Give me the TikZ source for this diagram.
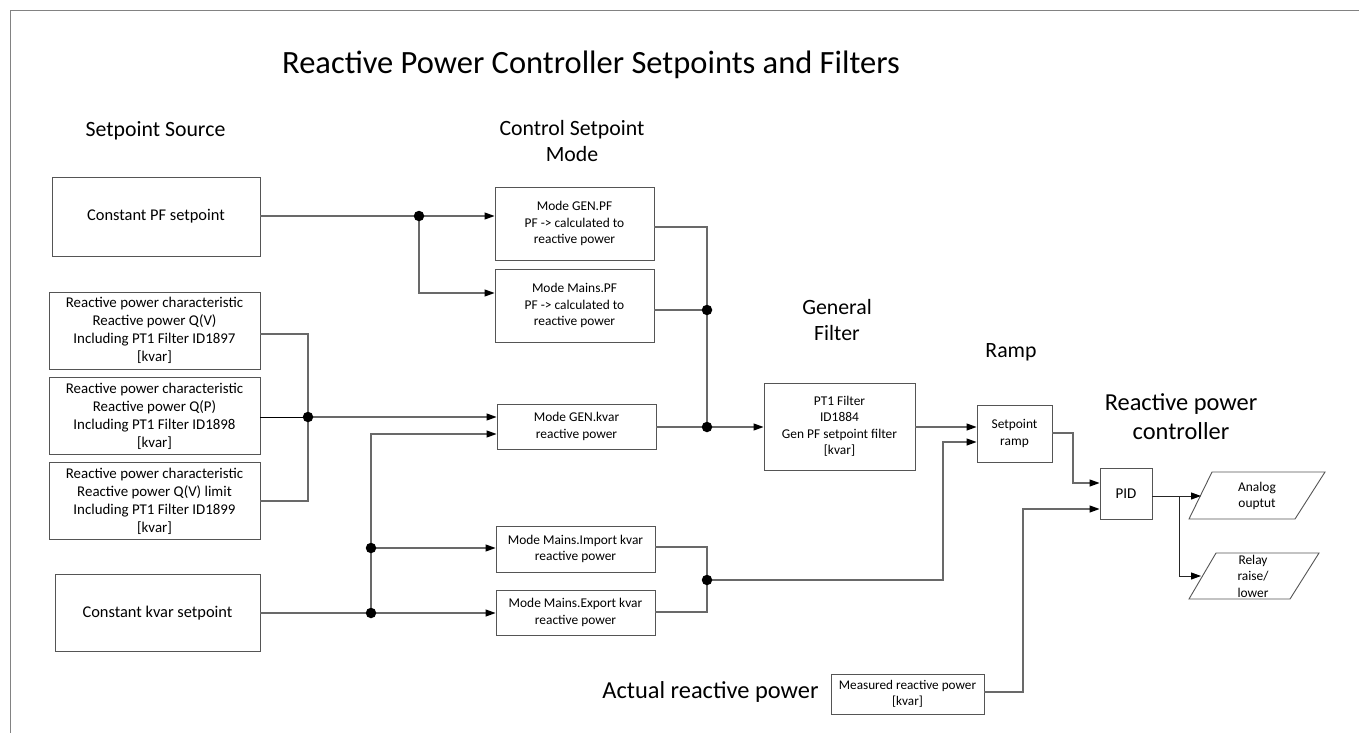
\documentclass[tikz,border=0pt]{standalone}
\usepackage{fontspec}
\setmainfont{Carlito}
\usetikzlibrary{arrows.meta}
\definecolor{linec}{RGB}{105,105,105}
\definecolor{boxc}{RGB}{85,85,85}
\definecolor{framec}{RGB}{130,130,130}
\begin{document}
\begin{tikzpicture}[x=1pt,y=-1pt,
  box/.style={draw=boxc, line width=0.9pt, fill=white, inner sep=0pt, align=center, font=\fontsize{13.4}{16.5}\selectfont},
  bigbox/.style={box, font=\fontsize{14.9}{18}\selectfont},
  conn/.style={draw=linec, line width=1.1pt},
  arr/.style={conn, -{Triangle[length=10pt,width=7pt,color=black]}},
  dot/.style={circle, fill=black, inner sep=0pt, minimum size=10.5pt},
  head/.style={font=\fontsize{21.8}{26}\selectfont, align=center, inner sep=0pt},
  bighead/.style={font=\fontsize{24.4}{29}\selectfont, align=center, inner sep=0pt}]
\useasboundingbox (0,0) rectangle (1359,733);
\fill[white] (0,0) rectangle (1359,733);
% frame
\draw[framec, line width=1.5pt] (10.5,733) -- (10.5,10.5) -- (1359,10.5);

% headings
\node[font=\fontsize{32.5}{38}\selectfont, inner sep=0pt] (title) at (591,65) {Reactive Power Controller Setpoints and Filters};
\node[head] (hsrc) at (155.5,131) {Setpoint Source};
\node[head] (hmode) at (572,141) {Control Setpoint\\Mode};
\node[head] (hfilt) at (837,320) {General\\Filter};
\node[head] (hramp) at (1011,352) {Ramp};
\node[bighead] (hctrl) at (1181,417) {Reactive power\\controller};
\node[bighead] (hact) at (710.5,692) {Actual reactive power};

% source boxes
\node[box, font=\fontsize{16.4}{19}\selectfont, minimum width=208pt, minimum height=79pt] (cpf) at (156,216.5) {Constant PF setpoint};
\node[bigbox, minimum width=211pt, minimum height=77pt] (qv) at (154.5,330.5) {Reactive power characteristic\\Reactive power Q(V)\\Including PT1 Filter ID1897\\{[kvar]}};
\node[bigbox, minimum width=211pt, minimum height=77pt] (qp) at (154.5,416) {Reactive power characteristic\\Reactive power Q(P)\\Including PT1 Filter ID1898\\{[kvar]}};
\node[bigbox, minimum width=211pt, minimum height=77pt] (qvl) at (154.5,501) {Reactive power characteristic\\Reactive power Q(V) limit\\Including PT1 Filter ID1899\\{[kvar]}};
\node[box, font=\fontsize{16.4}{19}\selectfont, minimum width=205pt, minimum height=77pt] (ckv) at (157.5,613) {Constant kvar setpoint};

% mode boxes
\node[box, minimum width=159pt, minimum height=73pt] (genpf) at (574.5,223.5) {Mode GEN.PF\\PF -> calculated to\\reactive power};
\node[box, minimum width=159pt, minimum height=73pt] (mainspf) at (574.5,305.5) {Mode Mains.PF\\PF -> calculated to\\reactive power};
\node[box, minimum width=159pt, minimum height=45pt] (genkvar) at (576.5,426.5) {Mode GEN.kvar\\reactive power};
\node[box, minimum width=159pt, minimum height=46pt] (imp) at (575.5,549) {Mode Mains.Import kvar\\reactive power};
\node[box, minimum width=159pt, minimum height=45pt] (exp) at (575.5,612.5) {Mode Mains.Export kvar\\reactive power};

% filter, ramp, pid
\node[box, minimum width=151pt, minimum height=87pt] (pt1) at (839.5,426.5) {PT1 Filter\\ID1884\\Gen PF setpoint filter\\{[kvar]}};
\node[box, minimum width=75pt, minimum height=57pt] (ramp) at (1014.5,433.5) {Setpoint\\ramp};
\node[box, font=\fontsize{15}{17}\selectfont, minimum width=52pt, minimum height=51pt] (pid) at (1126,494) {PID};
\node[box, font=\fontsize{13.2}{16}\selectfont, minimum width=153pt, minimum height=40pt] (meas) at (907.5,694) {Measured reactive power\\{[kvar]}};

% outputs (parallelograms)
\draw[boxc, line width=0.9pt] (1212,472) -- (1325,472) -- (1295,519) -- (1189,519) -- cycle;
\node[box, draw=none, fill=none] (ana) at (1257,496) {Analog\\ouptut};
\draw[boxc, line width=0.9pt] (1216,553) -- (1319,553) -- (1290,599) -- (1189,599) -- cycle;
\node[box, draw=none, fill=none] (rel) at (1253,576) {Relay\\raise/\\lower};
\coordinate (anain) at (1201,496);
\coordinate (relin) at (1201,576);

% junction positions
\coordinate (j1) at (419,216);
\coordinate (j2) at (308,417);
\coordinate (j3) at (371,548);
\coordinate (j4) at (371,613);
\coordinate (j5) at (707,310);
\coordinate (j6) at (707,427);
\coordinate (j7) at (707,580);

% connectors: PF
\draw[conn] (cpf.east |- j1) -- (j1);
\draw[arr] (j1) -- (genpf.west |- j1);
\draw[arr] (j1) -- (419,293) -- (mainspf.west |- 0,293);

% connectors: characteristics
\draw[conn] (qv.east |- 0,334) -- (308,334) -- (j2);
\draw[conn] (qvl.east |- 0,501) -- (308,501) -- (j2);
\draw[draw=black, line width=0.9pt] (qp.east |- j2) -- (j2);
\draw[arr] (j2) -- (genkvar.west |- j2);

% connectors: constant kvar
\draw[conn] (ckv.east |- j4) -- (j4);
\draw[arr] (j4) -- (exp.west |- j4);
\draw[conn] (j4) -- (j3);
\draw[arr] (j3) -- (imp.west |- j3);
\draw[arr] (j3) -- (371,434) -- (genkvar.west |- 0,434);

% mode outputs
\draw[conn] (genpf.east |- 0,227) -- (707,227) -- (j5);
\draw[conn] (mainspf.east |- j5) -- (j5);
\draw[conn] (j5) -- (j6);
\draw[conn] (genkvar.east |- j6) -- (j6);
\draw[arr] (j6) -- (pt1.west |- j6);

\draw[conn] (imp.east |- 0,547) -- (707,547) -- (j7);
\draw[conn] (exp.east |- 0,612) -- (707,612) -- (j7);
\draw[arr] (j7) -- (943,580) -- (943,442) -- (ramp.west |- 0,442);

% filter -> ramp -> pid
\draw[arr] (pt1.east |- 0,427) -- (ramp.west |- 0,427);
\draw[arr] (ramp.east |- 0,433) -- (1073,433) -- (1073,483) -- (pid.west |- 0,483);
\draw[arr] (meas.east |- 0,692) -- (1023,692) -- (1023,509) -- (pid.west |- 0,509);

% pid outputs
\draw[arr, draw=black!85, line width=0.9pt] (pid.east |- 0,496) -- (anain);
\draw[arr, draw=black!85, line width=0.9pt] (1179,496) -- (1179,576) -- (relin);

% junction dots
\foreach \j in {j1,j2,j3,j4,j5,j6,j7} \node[dot] (d\j) at (\j) {};
\end{tikzpicture}
\end{document}
